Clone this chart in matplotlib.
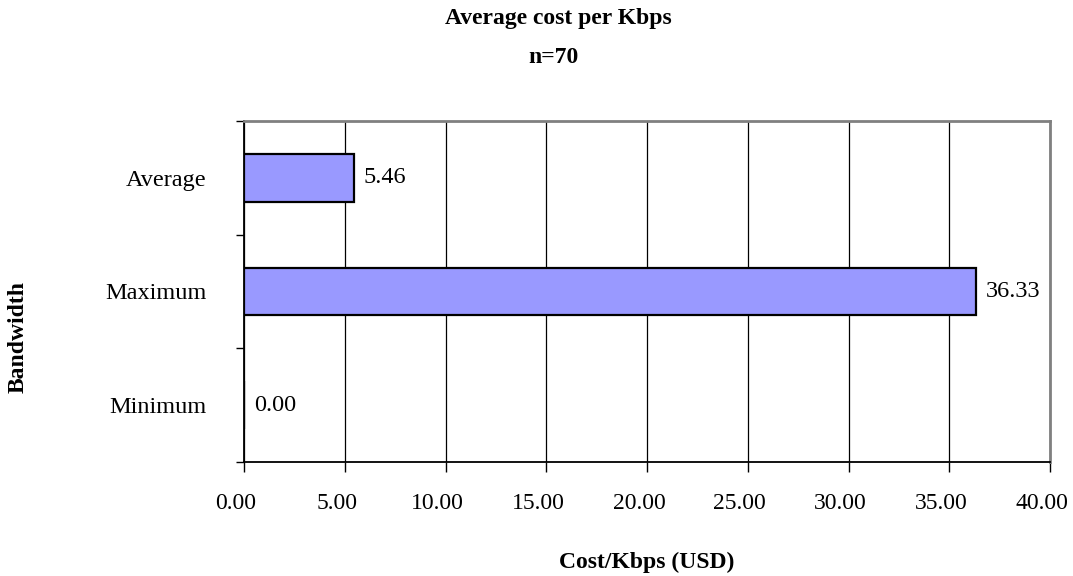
import matplotlib.pyplot as plt

plt.rcParams['font.family'] = ['Liberation Serif', 'DejaVu Serif']

categories = ['Minimum', 'Maximum', 'Average']
values = [0.00, 36.33, 5.46]
xticks = [0, 5, 10, 15, 20, 25, 30, 35, 40]

fig = plt.figure(figsize=(10.73, 5.76), dpi=100)
ax = fig.add_axes([0.2274, 0.1979, 0.7512, 0.5921])

ypos = range(len(categories))
bars = ax.barh(ypos, values, height=0.42, color='#9999ff',
        edgecolor='black', linewidth=1.6, zorder=3)

for y, v in zip(ypos, values):
    ax.annotate(f'{v:.2f}', (v, y), xytext=(7, 0), textcoords='offset points',
            ha='left', va='center', fontsize=17.5)

ax.set_xlim(0, 40)
ax.set_ylim(-0.5, 2.5)
ax.set_xticks(xticks)
ax.set_xticklabels([])
# x labels sit a bit left of their ticks in the original, so draw them by hand
for t in xticks:
    ax.annotate(f'{t:.2f}', (t, 0), xycoords=('data', 'axes fraction'),
            xytext=(-5.8, -30), textcoords='offset points',
            ha='center', va='center', fontsize=17, annotation_clip=False)
ax.set_yticks([-0.5, 0.5, 1.5, 2.5])
ax.set_yticklabels([])
ax.set_yticks(list(ypos), minor=True)
ax.set_yticklabels(categories, minor=True, fontsize=17.5)
ax.tick_params(axis='y', which='minor', length=0, pad=27)
ax.tick_params(axis='y', which='major', length=6, width=1, direction='out')
ax.tick_params(axis='x', length=7, width=1, direction='out')

ax.grid(axis='x', color='black', linewidth=0.9, zorder=0)
ax.set_axisbelow(True)

for s in ['top', 'right']:
    ax.spines[s].set_color('#808080')
    ax.spines[s].set_linewidth(2)
for s in ['left', 'bottom']:
    ax.spines[s].set_color('black')
    ax.spines[s].set_linewidth(1.3)

fig.text(558/1073, 1 - 24/576, 'Average cost per Kbps', ha='center', va='baseline',
        fontsize=17, fontweight='bold')
fig.text(553/1073, 1 - 63/576, 'n=70', ha='center', va='baseline',
        fontsize=17, fontweight='bold')
fig.text(647/1073, 1 - 568/576, 'Cost/Kbps (USD)', ha='center', va='baseline',
        fontsize=17, fontweight='bold')
fig.text(18/1073, 1 - 337/576, 'Bandwidth', ha='center', va='center',
        rotation=90, fontsize=17, fontweight='bold')

plt.savefig('out.png', dpi=100)
